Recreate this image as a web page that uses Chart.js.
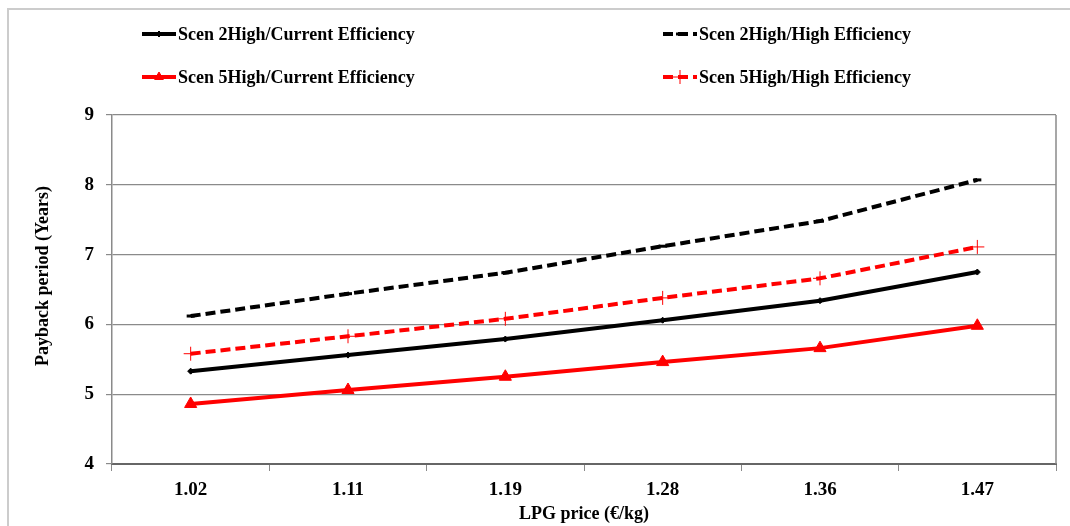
<!DOCTYPE html>
<html>
<head>
<meta charset="utf-8">
<title>Payback period vs LPG price</title>
<script src="https://cdn.jsdelivr.net/npm/chart.js@4/dist/chart.umd.min.js"></script>
<style>
  body { margin: 0; background: #fff; }
  #wrap { position: relative; width: 1070px; height: 526px; }
</style>
</head>
<body>
<div id="wrap"><canvas id="paybackChart" width="1070" height="526"></canvas></div>
<script>
const lpgPrices = ['1.02', '1.11', '1.19', '1.28', '1.36', '1.47'];
const scen2Current = [5.33, 5.56, 5.79, 6.06, 6.34, 6.75];
const scen2High = [6.12, 6.44, 6.74, 7.12, 7.48, 8.07];
const scen5Current = [4.86, 5.06, 5.25, 5.46, 5.66, 5.98];
const scen5High = [5.58, 5.83, 6.08, 6.38, 6.66, 7.11];
const yTicks = [4, 5, 6, 7, 8, 9];

const serif = 'Liberation Serif, Times New Roman, serif';
const gridGrey = '#8a8a8a';

// legend is drawn by hand so it can sit in two fixed columns
const legendSpots = [
  { x: 142, y: 34 },
  { x: 663, y: 34 },
  { x: 142, y: 77 },
  { x: 663, y: 77 }
];

const framePlugin = {
  id: 'frame',
  beforeDraw(chart) {
    const ctx = chart.ctx;
    ctx.save();
    ctx.strokeStyle = '#cccccc';
    ctx.lineWidth = 2;
    ctx.beginPath();
    ctx.moveTo(8, 526);
    ctx.lineTo(8, 9);
    ctx.lineTo(1070, 9);
    ctx.stroke();
    ctx.restore();
  },
  afterDraw(chart) {
    const ctx = chart.ctx;
    const area = chart.chartArea;
    ctx.save();
    // right edge of the plot area
    ctx.strokeStyle = gridGrey;
    ctx.lineWidth = 1.5;
    ctx.beginPath();
    ctx.moveTo(area.right, area.top);
    ctx.lineTo(area.right, area.bottom);
    ctx.stroke();

    chart.data.datasets.forEach((ds, i) => {
      const spot = legendSpots[i];
      ctx.strokeStyle = ds.borderColor;
      ctx.lineWidth = ds.borderWidth;
      ctx.setLineDash(ds.borderDash || []);
      ctx.beginPath();
      ctx.moveTo(spot.x, spot.y);
      ctx.lineTo(spot.x + 34, spot.y);
      ctx.stroke();
      ctx.setLineDash([]);
      ctx.fillStyle = ds.pointBackgroundColor;
      ctx.lineWidth = ds.pointBorderWidth || 1;
      Chart.helpers.drawPoint(ctx, {
        pointStyle: ds.pointStyle,
        radius: ds.pointStyle === 'triangle' ? 5 : ds.pointRadius,
        borderWidth: ds.pointBorderWidth || 1,
        rotation: 0
      }, spot.x + 17, spot.y);
      ctx.fillStyle = '#000';
      ctx.font = 'bold 18px ' + serif;
      ctx.textBaseline = 'middle';
      ctx.textAlign = 'left';
      ctx.fillText(ds.label, spot.x + 36, spot.y + 1);
    });
    ctx.restore();
  }
};

new Chart(document.getElementById('paybackChart'), {
  type: 'line',
  data: {
    labels: lpgPrices,
    datasets: [
      {
        label: 'Scen 2High/Current Efficiency',
        data: scen2Current,
        borderColor: '#000000',
        backgroundColor: '#000000',
        pointBackgroundColor: '#000000',
        borderWidth: 4,
        pointStyle: 'rectRot',
        pointRadius: 3,
        pointBorderWidth: 1,
        tension: 0
      },
      {
        label: 'Scen 2High/High Efficiency',
        data: scen2High,
        borderColor: '#000000',
        backgroundColor: '#000000',
        pointBackgroundColor: '#000000',
        borderWidth: 4,
        borderDash: [10, 5],
        pointStyle: 'line',
        pointRadius: 4,
        pointBorderWidth: 3,
        tension: 0
      },
      {
        label: 'Scen 5High/Current Efficiency',
        data: scen5Current,
        borderColor: '#ff0000',
        backgroundColor: '#ff0000',
        pointBackgroundColor: '#ff0000',
        borderWidth: 4,
        pointStyle: 'triangle',
        pointRadius: 7,
        pointBorderWidth: 1,
        tension: 0
      },
      {
        label: 'Scen 5High/High Efficiency',
        data: scen5High,
        borderColor: '#ff0000',
        backgroundColor: '#ff0000',
        pointBackgroundColor: '#ff0000',
        borderWidth: 4,
        borderDash: [10, 5],
        pointStyle: 'cross',
        pointRadius: 7,
        pointBorderWidth: 1,
        tension: 0
      }
    ]
  },
  options: {
    responsive: false,
    animation: false,
    layout: { padding: { top: 115, right: 14, left: 0, bottom: 0 } },
    plugins: {
      legend: { display: false },
      tooltip: { enabled: false }
    },
    scales: {
      x: {
        offset: true,
        grid: {
          offset: true,
          drawOnChartArea: false,
          color: gridGrey,
          tickLength: 7
        },
        border: { color: '#666', width: 2 },
        ticks: {
          color: '#000',
          padding: 8,
          font: { family: serif, size: 19, weight: 'bold' }
        },
        title: {
          display: true,
          text: 'LPG price (€/kg)',
          color: '#000',
          padding: { top: 0, bottom: 1 },
          font: { family: serif, size: 18, weight: 'bold' }
        },
        afterFit(scale) { scale.height = 62; }
      },
      y: {
        min: 4,
        max: 9,
        afterBuildTicks(scale) { scale.ticks = yTicks.map(v => ({ value: v })); },
        grid: {
          color: gridGrey,
          lineWidth: 1.2,
          tickLength: 6
        },
        border: { color: gridGrey, width: 1.5 },
        ticks: {
          color: '#000',
          padding: 12,
          font: { family: serif, size: 19, weight: 'bold' }
        },
        title: {
          display: true,
          // leading spaces nudge the rotated title up a little, as in the original
          text: '      Payback period (Years)',
          color: '#000',
          padding: { top: 33, bottom: 0 },
          font: { family: serif, size: 18, weight: 'bold' }
        },
        afterFit(scale) { scale.width = 112; }
      }
    }
  },
  plugins: [framePlugin]
});
</script>
</body>
</html>
